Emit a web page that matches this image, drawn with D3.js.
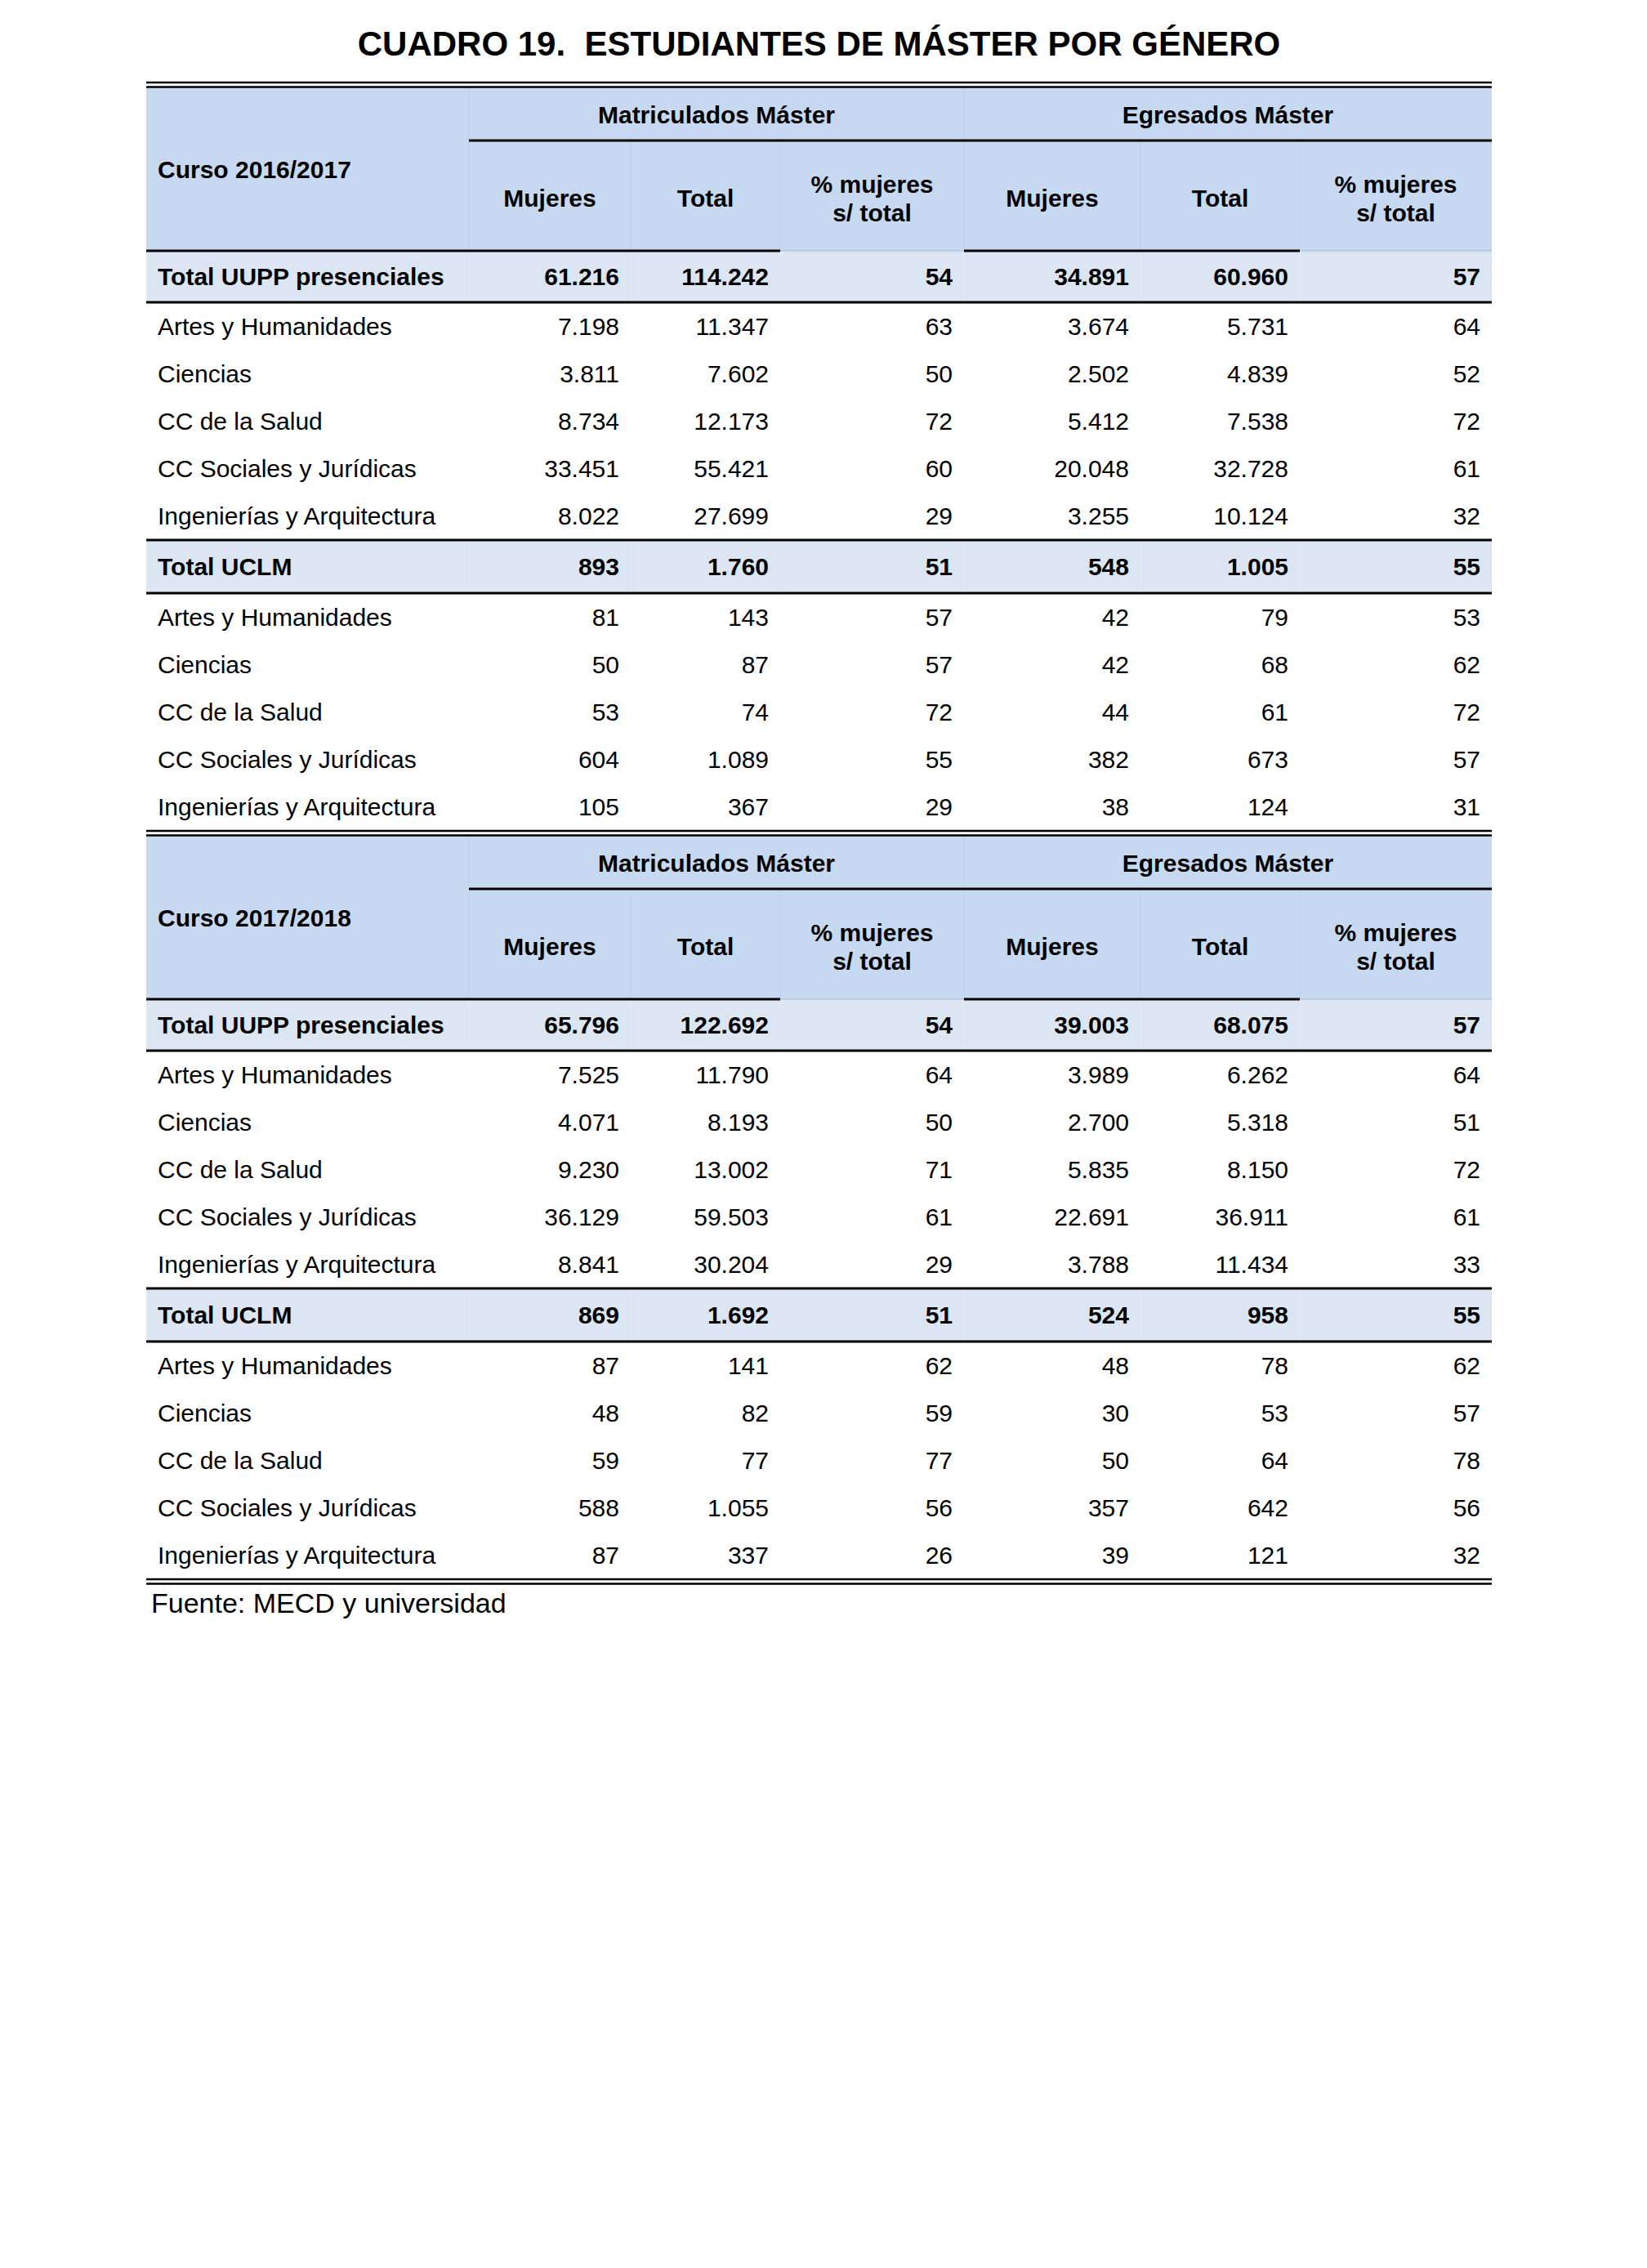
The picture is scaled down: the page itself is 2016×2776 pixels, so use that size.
<html>
<head>
<meta charset="utf-8">
<script src="https://d3js.org/d3.v7.min.js"></script>
<style>
  body {margin: 0; background: #fff;}
  text {font-family: "Liberation Sans", Arial, sans-serif; fill: #000;}
</style>
</head>
<body>
<svg width=2016 height=2776></svg>
<script>
const title = 'CUADRO 19.  ESTUDIANTES DE MÁSTER POR GÉNERO';
const source = 'Fuente: MECD y universidad';
const courses = ['Curso 2016/2017', 'Curso 2017/2018'];
const groups = ['Matriculados Máster', 'Egresados Máster'];
const subHeads = [['Mujeres'], ['Total'], ['% mujeres', 's/ total']];
const totalLabels = ['Total UUPP presenciales', 'Total UCLM'];
const areas = ['Artes y Humanidades', 'Ciencias', 'CC de la Salud', 'CC Sociales y Jurídicas', 'Ingenierías y Arquitectura'];

// columns: mat. mujeres, mat. total, mat. %, egr. mujeres, egr. total, egr. %
const uuppTotal1617 = [61216, 114242, 54, 34891, 60960, 57];
const uupp1617 = [
  [7198, 11347, 63, 3674, 5731, 64],
  [3811, 7602, 50, 2502, 4839, 52],
  [8734, 12173, 72, 5412, 7538, 72],
  [33451, 55421, 60, 20048, 32728, 61],
  [8022, 27699, 29, 3255, 10124, 32]
];
const uclmTotal1617 = [893, 1760, 51, 548, 1005, 55];
const uclm1617 = [
  [81, 143, 57, 42, 79, 53],
  [50, 87, 57, 42, 68, 62],
  [53, 74, 72, 44, 61, 72],
  [604, 1089, 55, 382, 673, 57],
  [105, 367, 29, 38, 124, 31]
];
const uuppTotal1718 = [65796, 122692, 54, 39003, 68075, 57];
const uupp1718 = [
  [7525, 11790, 64, 3989, 6262, 64],
  [4071, 8193, 50, 2700, 5318, 51],
  [9230, 13002, 71, 5835, 8150, 72],
  [36129, 59503, 61, 22691, 36911, 61],
  [8841, 30204, 29, 3788, 11434, 33]
];
const uclmTotal1718 = [869, 1692, 51, 524, 958, 55];
const uclm1718 = [
  [87, 141, 62, 48, 78, 62],
  [48, 82, 59, 30, 53, 57],
  [59, 77, 77, 50, 64, 78],
  [588, 1055, 56, 357, 642, 56],
  [87, 337, 26, 39, 121, 32]
];

const blocks = [
  {course: courses[0], sections: [[uuppTotal1617, uupp1617], [uclmTotal1617, uclm1617]]},
  {course: courses[1], sections: [[uuppTotal1718, uupp1718], [uclmTotal1718, uclm1718]]}
];

// ---- layout ----
const colEdges = [179, 574, 772, 955, 1180, 1396, 1591, 1826];
const x = d3.scaleOrdinal().domain(d3.range(8)).range(colEdges);
const left = x(0), right = x(7);
const pad = 14;
const fs = 30;
const blockTop = 101, blockH = 916;
const headH = 200, groupH = 65, totalH = [63, 65], rowH = 58.2;
const headBlue = '#c6d9f1', totalBlue = '#dce6f2';

const es = d3.formatLocale({decimal: ',', thousands: '.', grouping: [3], currency: ['', '']});
const fmt = es.format(',d');

var svg = d3.select('svg');
svg.append('rect').attr('width', 2016).attr('height', 2776).attr('fill', '#fff');

function hline(x1, x2, y, w, c) {
  svg.append('line').attr('x1', x1).attr('x2', x2).attr('y1', y).attr('y2', y)
    .attr('stroke', c || '#000').attr('stroke-width', w);
}
function vline(xx, y1, y2, c) {
  svg.append('line').attr('x1', xx).attr('x2', xx).attr('y1', y1).attr('y2', y2)
    .attr('stroke', c).attr('stroke-width', 1);
}
function label(t, xx, yc, anchor, bold, size) {
  return svg.append('text').attr('x', xx).attr('y', yc + 0.35 * (size || fs))
    .attr('text-anchor', anchor).style('font-size', (size || fs) + 'px')
    .style('font-weight', bold ? 'bold' : 'normal').text(t);
}

// title
label(title, (left + right) / 2, 53, 'middle', true, 42).style('white-space', 'pre');

blocks.forEach(function(b, bi) {
  var top = blockTop + bi * blockH;
  var hTop = top + 6, hBot = hTop + headH;

  // header background, faint cell borders
  svg.append('rect').attr('x', left).attr('y', hTop).attr('width', right - left)
    .attr('height', headH).attr('fill', headBlue);
  vline(x(1), hTop, hBot, '#bccfe9');
  vline(x(4), hTop, hBot, '#bccfe9');
  [2, 3, 5, 6].forEach(i => vline(x(i), hTop + groupH, hBot, '#bccfe9'));

  label(b.course, left + pad, (hTop + hBot) / 2, 'start', true);
  groups.forEach(function(g, gi) {
    label(g, (x(1 + gi * 3) + x(4 + gi * 3)) / 2, hTop + groupH / 2 + 1, 'middle', true);
    subHeads.forEach(function(s, si) {
      var c = 1 + gi * 3 + si;
      var cx = (x(c) + x(c + 1)) / 2, cy = hTop + groupH + (headH - groupH) / 2 + 3;
      if (s.length == 1) label(s[0], cx, cy, 'middle', true);
      else { label(s[0], cx, cy - 17.5, 'middle', true); label(s[1], cx, cy + 17.5, 'middle', true); }
    });
  });

  // double rule on top, group rule
  hline(left, right, top, 2.5);
  hline(left, right, top + 5.5, 2.5);
  hline(x(1), right, hTop + groupH, 3);

  var y = hBot;
  b.sections.forEach(function(sec, si) {
    var th = totalH[si];
    svg.append('rect').attr('x', left).attr('y', y).attr('width', right - left)
      .attr('height', th).attr('fill', totalBlue);
    d3.range(1, 7).forEach(i => vline(x(i), y, y + th, '#e6edf6'));
    label(totalLabels[si], left + pad, y + th / 2, 'start', true);
    sec[0].forEach((v, i) => label(fmt(v), x(i + 2) - pad, y + th / 2, 'end', true));

    if (si == 0) {
      // header bottom rule: thick under counts, light under percentages
      hline(left, x(3), y, 3);
      hline(x(3), x(4), y, 1.2, '#a9bad0');
      hline(x(4), x(6), y, 3);
      hline(x(6), right, y, 1.2, '#a9bad0');
    } else {
      hline(left, right, y, 3);
    }
    y += th;
    hline(left, right, y, 3);

    sec[1].forEach(function(row, ri) {
      var cy = y + rowH * ri + rowH / 2;
      label(areas[ri], left + pad, cy, 'start', false);
      row.forEach((v, i) => label(fmt(v), x(i + 2) - pad, cy, 'end', false));
    });
    y += rowH * 5;
  });

  if (bi == blocks.length - 1) {
    hline(left, right, y, 2.5);
    hline(left, right, y + 5.5, 2.5);
  }
});

label(source, 185, 1962, 'start', false, 34);
</script>
</body>
</html>
